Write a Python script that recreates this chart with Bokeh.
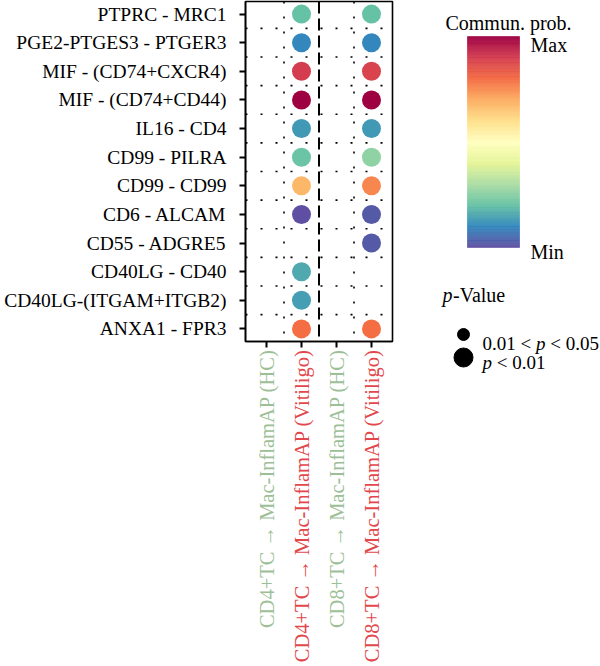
import numpy as np
from bokeh.plotting import figure
from bokeh.layouts import row, column
from bokeh.models import Range1d, FixedTicker, Span, ColumnDataSource
from bokeh.transform import linear_cmap
from bokeh.palettes import Spectral11
from bokeh.core.properties import value
from bokeh.embed import file_html
from bokeh.resources import INLINE

FONT = "Liberation Serif"

# ligand - receptor pairs, listed top to bottom
pairs = [
    "PTPRC - MRC1",
    "PGE2-PTGES3 - PTGER3",
    "MIF - (CD74+CXCR4)",
    "MIF - (CD74+CD44)",
    "IL16 - CD4",
    "CD99 - PILRA",
    "CD99 - CD99",
    "CD6 - ALCAM",
    "CD55 - ADGRE5",
    "CD40LG - CD40",
    "CD40LG-(ITGAM+ITGB2)",
    "ANXA1 - FPR3",
]

# sender -> receiver groups along x
groups = [
    "CD4+TC \u2192 Mac-InflamAP (HC)",
    "CD4+TC \u2192 Mac-InflamAP (Vitiligo)",
    "CD8+TC \u2192 Mac-InflamAP (HC)",
    "CD8+TC \u2192 Mac-InflamAP (Vitiligo)",
]
group_colors = ["#9dbf97", "#e2474c", "#9dbf97", "#e2474c"]

# scaled communication probability (0 = min, 1 = max); None = no significant interaction
prob_cd4_hc = [None] * 12
prob_cd4_vit = [0.20, 0.10, 0.90, 1.00, 0.13, 0.21, 0.68, 0.00, None, 0.16, 0.14, 0.80]
prob_cd8_hc = [None] * 12
prob_cd8_vit = [0.20, 0.10, 0.89, 1.00, 0.13, 0.26, 0.76, 0.02, 0.02, None, None, 0.80]

# p-value class of each interaction
pval_cd4_vit = ["p<0.01"] * 12
pval_cd8_vit = ["p<0.01"] * 12
pval_hc = ["p<0.01"] * 12

pval_classes = ["0.01<p<0.05", "p<0.01"]
pval_sizes = {"0.01<p<0.05": 12, "p<0.01": 19}


def hex_to_rgb(h):
    h = h.lstrip("#")
    return np.array([int(h[i:i + 2], 16) for i in (0, 2, 4)], dtype=float)


def smooth_palette(colors, n=256):
    stops = np.array([hex_to_rgb(c) for c in colors])
    pos = np.linspace(0, 1, len(stops))
    out = []
    for v in np.linspace(0, 1, n):
        rgb = [np.interp(v, pos, stops[:, k]) for k in range(3)]
        out.append("#%02x%02x%02x" % tuple(int(round(c)) for c in rgb))
    return out


# purple (min) -> dark red (max)
palette = smooth_palette(list(Spectral11))

xs, ys, probs, sizes = [], [], [], []
n_rows = len(pairs)
for gi, (prob_list, pv_list) in enumerate(
    [(prob_cd4_hc, pval_hc), (prob_cd4_vit, pval_cd4_vit),
     (prob_cd8_hc, pval_hc), (prob_cd8_vit, pval_cd8_vit)]
):
    for ri, pr in enumerate(prob_list):
        if pr is None:
            continue
        xs.append(gi + 1)
        ys.append(n_rows - ri)
        probs.append(pr)
        sizes.append(pval_sizes[pv_list[ri]])

src = ColumnDataSource(dict(x=xs, y=ys, prob=probs, size=sizes))

# ---- dot plot ----
p = figure(
    width=420, height=348,
    x_range=Range1d(0.4, len(groups) + 0.6),
    y_range=Range1d(0.56, n_rows + 0.44),
    output_backend="svg", toolbar_location=None,
    min_border_left=245, min_border_right=28,
    min_border_top=1, min_border_bottom=7,
)
p.frame_align = False
p.background_fill_color = "white"
p.border_fill_color = "white"
p.outline_line_color = "black"
p.outline_line_width = 1.6
p.grid.visible = False

# dotted separators between rows and within each sender block, dashed between blocks
for k in range(1, n_rows):
    p.add_layout(Span(location=k + 0.5, dimension="width", line_color="black",
                      line_width=1.6, line_dash="2 13"))
for k in (1, 3):
    p.add_layout(Span(location=k + 0.5, dimension="height", line_color="black",
                      line_width=1.6, line_dash="2 13"))
p.add_layout(Span(location=2.5, dimension="height", line_color="black",
                  line_width=2, line_dash="12 5"))

p.scatter("x", "y", source=src, size="size", line_color=None,
          fill_color=linear_cmap("prob", palette, 0, 1))

p.yaxis.ticker = FixedTicker(ticks=list(range(1, n_rows + 1)))
p.yaxis.major_label_overrides = {n_rows - i: lab for i, lab in enumerate(pairs)}
p.xaxis.ticker = FixedTicker(ticks=list(range(1, len(groups) + 1)))
p.xaxis.major_label_overrides = {i + 1: "" for i in range(len(groups))}
for ax in (p.xaxis[0], p.yaxis[0]):
    ax.axis_line_width = 1.6
    ax.axis_line_color = "black"
    ax.major_tick_line_width = 2
    ax.major_tick_line_color = "black"
    ax.major_tick_out = 6
    ax.major_tick_in = 0
    ax.minor_tick_line_color = None
    ax.major_label_text_font = FONT
    ax.major_label_text_color = "black"
    ax.major_label_text_font_size = "19.5px"
p.yaxis.major_label_standoff = 13
p.xaxis.major_label_text_font_size = "0px"
p.xaxis.major_label_standoff = 0

# ---- coloured group labels, sharing the dot plot's x scale ----
xl = figure(
    width=420, height=318,
    x_range=p.x_range, y_range=Range1d(318, 0),
    output_backend="svg", toolbar_location=None,
    min_border_left=245, min_border_right=28,
    min_border_top=0, min_border_bottom=0,
)
xl.frame_align = False
xl.axis.visible = False
xl.grid.visible = False
xl.outline_line_color = None
xl.text(x=list(range(1, len(groups) + 1)), y=[1] * len(groups), text=groups,
        angle=np.pi / 2, text_align="right", text_baseline="middle",
        text_font=value(FONT), text_font_size="20.5px", text_color=group_colors)

# ---- legend panel ----
lg = figure(
    width=180, height=666,
    x_range=Range1d(420, 600), y_range=Range1d(666, 0),
    output_backend="svg", toolbar_location=None,
    min_border=0,
)
lg.frame_align = False
lg.axis.visible = False
lg.grid.visible = False
lg.outline_line_color = None
lg.background_fill_color = "white"
lg.border_fill_color = "white"

# colour bar
bar_top, bar_bot = 36, 247
edges = np.linspace(bar_bot, bar_top, len(palette) + 1)
lg.quad(left=467, right=519, bottom=edges[:-1], top=edges[1:],
        fill_color=palette, line_color=palette, line_width=0.5)

FONT_V = value(FONT)


def txt(x, y, s, italic=False, align="left", size="20px"):
    lg.text(x=[x], y=[y], text=[s], text_align=align, text_baseline="alphabetic",
            text_font=FONT_V, text_font_size=size,
            text_font_style="italic" if italic else "normal", text_color="black")


txt(508, 22, "Commun. prob.", align="center")
txt(530, 44, "Max")
txt(530, 251, "Min")

txt(442, 294, "p", italic=True)
txt(452.5, 294, "-Value")

lg.scatter(x=[463, 463], y=[334, 357],
           size=[pval_sizes[c] for c in pval_classes], color="black")
txt(482, 343, "0.01 <", size="19px")
txt(535.5, 343, "p", italic=True, size="19px")
txt(549.7, 343, "< 0.05", size="19px")
txt(482, 362, "p", italic=True, size="19px")
txt(496.3, 362, "< 0.01", size="19px")

layout = row(column(p, xl), lg)
open("out.html", "w").write(file_html(layout, INLINE))
